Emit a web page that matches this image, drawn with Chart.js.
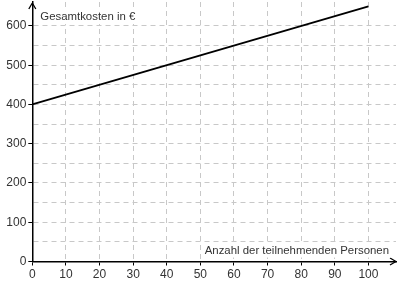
<!DOCTYPE html>
<html>
<head>
<meta charset="utf-8">
<script src="https://cdn.jsdelivr.net/npm/chart.js@4/dist/chart.umd.min.js"></script>
<style>
  html, body { margin: 0; padding: 0; background: #fff; }
  #wrap { width: 400px; height: 285px; }
</style>
</head>
<body>
<div id="wrap"><canvas id="costChart"></canvas></div>
<script>
// data
const persons = [0, 100];
const costs = [400, 650];
const yTitle = "Gesamtkosten in €";
const xTitle = "Anzahl der teilnehmenden Personen";

const points = persons.map((p, i) => ({ x: p, y: costs[i] }));
const FONT = "'Liberation Sans', Arial, sans-serif";

// arrows on the axes + axis titles with white background
const axisExtras = {
  id: "axisExtras",
  afterDraw(chart) {
    const { ctx, chartArea: a } = chart;
    ctx.save();
    ctx.lineWidth = 1.3;
    ctx.strokeStyle = "#000";
    // y arrow
    ctx.beginPath();
    ctx.moveTo(a.left, a.top + 1);
    ctx.lineTo(a.left - 3.5, a.top + 7);
    ctx.moveTo(a.left, a.top + 1);
    ctx.lineTo(a.left + 3.5, a.top + 7);
    ctx.stroke();
    // x arrow
    ctx.beginPath();
    ctx.moveTo(a.right, a.bottom);
    ctx.lineTo(a.right - 6, a.bottom - 3.5);
    ctx.moveTo(a.right, a.bottom);
    ctx.lineTo(a.right - 6, a.bottom + 3.5);
    ctx.stroke();

    ctx.font = "11.4px " + FONT;
    ctx.textBaseline = "middle";
    // y title
    let w = ctx.measureText(yTitle).width;
    ctx.fillStyle = "#fff";
    ctx.fillRect(a.left + 6, a.top + 7, w + 4, 15);
    ctx.fillStyle = "#333";
    ctx.textAlign = "left";
    ctx.fillText(yTitle, a.left + 8, a.top + 15);
    // x title
    w = ctx.measureText(xTitle).width;
    ctx.fillStyle = "#fff";
    ctx.fillRect(a.right - 9 - w, a.bottom - 19, w + 4, 15);
    ctx.fillStyle = "#333";
    ctx.textAlign = "right";
    ctx.fillText(xTitle, a.right - 7, a.bottom - 11);
    ctx.restore();
  }
};

new Chart(document.getElementById("costChart"), {
  type: "scatter",
  data: {
    datasets: [{
      data: points,
      showLine: true,
      borderColor: "#000",
      borderWidth: 1.8,
      pointRadius: 0,
      fill: false
    }]
  },
  options: {
    responsive: true,
    maintainAspectRatio: false,
    animation: false,
    layout: { padding: { top: 2, right: 4, left: 0, bottom: 0 } },
    plugins: { legend: { display: false }, tooltip: { enabled: false } },
    scales: {
      x: {
        type: "linear",
        min: 0,
        max: 108.2,
        afterFit(scale) { scale.height = 23.5; scale.paddingRight = 0; },
        ticks: {
          stepSize: 10,
          includeBounds: false,
          padding: 2,
          color: "#333",
          font: { family: FONT, size: 12 }
        },
        grid: {
          color: "#c8c8c8",
          lineWidth: 1,
          tickLength: 4,
          tickColor: "#000",
          tickWidth: 1
        },
        border: { color: "#000", width: 1.5, dash: [5, 4] }
      },
      y: {
        min: 0,
        max: 661,
        afterFit(scale) { scale.width = 32.3; scale.paddingTop = 0; },
        ticks: {
          stepSize: 50,
          includeBounds: false,
          padding: 2,
          color: "#333",
          font: { family: FONT, size: 12 },
          callback: (v) => (v % 100 === 0 ? v : "")
        },
        grid: {
          color: (c) => (c.tick && c.tick.value > 600 ? "rgba(0,0,0,0)" : "#c8c8c8"),
          lineWidth: 1,
          tickLength: 4,
          tickColor: (c) => (c.tick && c.tick.value % 100 === 0 ? "#000" : "rgba(0,0,0,0)"),
          tickWidth: 1
        },
        border: { color: "#000", width: 1.5, dash: [5, 4] }
      }
    }
  },
  plugins: [axisExtras]
});
</script>
</body>
</html>
